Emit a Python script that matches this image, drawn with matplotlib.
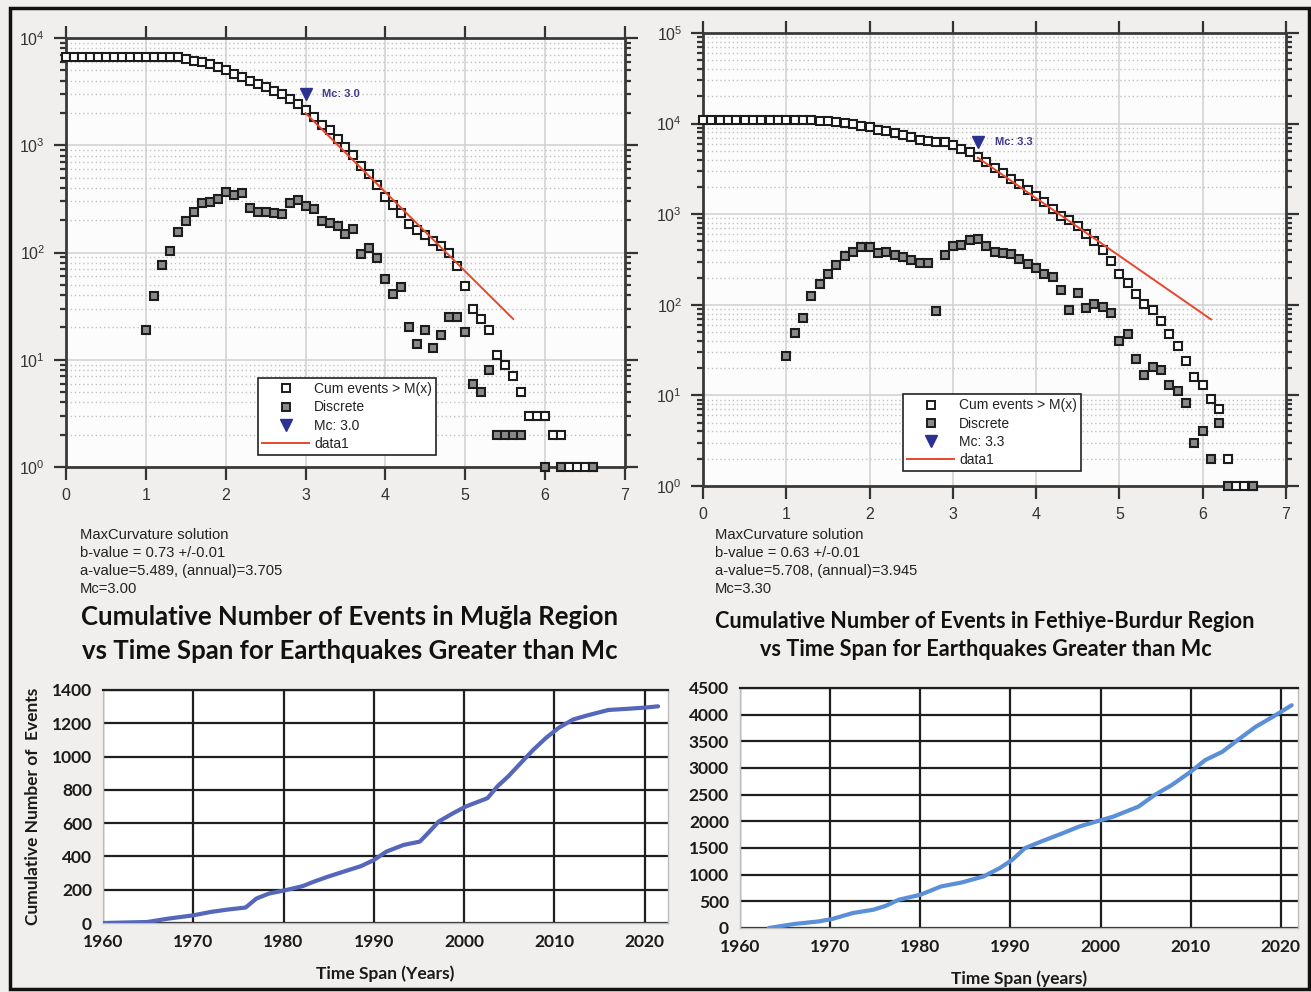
import numpy as np
import matplotlib
matplotlib.use("Agg")
import matplotlib.pyplot as plt
from matplotlib.lines import Line2D
from matplotlib.patches import Rectangle
from matplotlib.ticker import LogLocator, NullFormatter, FixedLocator

# ---------------- data ----------------
mag = [0.0, 0.1, 0.2, 0.3, 0.4, 0.5, 0.6, 0.7, 0.8, 0.9,
       1.0, 1.1, 1.2, 1.3, 1.4, 1.5, 1.6, 1.7, 1.8, 1.9,
       2.0, 2.1, 2.2, 2.3, 2.4, 2.5, 2.6, 2.7, 2.8, 2.9,
       3.0, 3.1, 3.2, 3.3, 3.4, 3.5, 3.6, 3.7, 3.8, 3.9,
       4.0, 4.1, 4.2, 4.3, 4.4, 4.5, 4.6, 4.7, 4.8, 4.9,
       5.0, 5.1, 5.2, 5.3, 5.4, 5.5, 5.6, 5.7, 5.8, 5.9,
       6.0, 6.1, 6.2, 6.3, 6.4, 6.5, 6.6]
nan = np.nan

cum_mugla = [6700, 6700, 6700, 6700, 6700, 6700, 6700, 6700, 6700, 6700,
             6700, 6700, 6700, 6700, 6600, 6410, 6100, 5930, 5670, 5320,
             5020, 4640, 4320, 3990, 3690, 3460, 3200, 2980, 2690, 2450,
             2120, 1815, 1560, 1380, 1150, 965, 807, 637, 536, 423,
             329, 275, 233, 183, 163, 147, 128, 116, 99, 75,
             49, 30, 24, 19, 11, 9, 7, 5, 3, 3,
             3, 2, 2, 1, 1, 1, 1]
disc_mugla = [nan, nan, nan, nan, nan, nan, nan, nan, nan, nan,
              19, 39, 76, 104, 156, 197, 239, 290, 295, 316,
              367, 340, 359, 262, 239, 239, 234, 228, 290, 312,
              270, 257, 197, 189, 176, 150, 167, 96, 109, 88,
              57, 41, 48, 20, 14, 19, 13, 17, 25, 25,
              18, 6, 5, 8, 2, 2, 2, 2, nan, nan,
              1, nan, 1, nan, nan, nan, 1]
fit_mugla_x = [3.0, 5.6]
fit_mugla_y = [1995, 24]
mc_mugla = (3.0, 3000)

cum_feth = [11000, 11000, 11000, 11000, 11000, 11000, 11000, 11000, 11000, 11000,
            11000, 11000, 11000, 11000, 10800, 10800, 10430, 10170, 9830, 9425,
            9110, 8510, 8370, 7890, 7440, 7070, 6660, 6390, 6230, 6230,
            5870, 5300, 4870, 4330, 3750, 3200, 2850, 2450, 2150, 1850,
            1580, 1360, 1150, 960, 860, 740, 600, 510, 400, 303,
            216, 175, 130, 103, 87, 67, 48, 35, 24, 16,
            13, 9.2, 7, 2, 1, 1, 1]
disc_feth = [nan, nan, nan, nan, nan, nan, nan, nan, nan, nan,
             27, 49, 71, 124, 169, 220, 272, 347, 387, 429,
             429, 371, 387, 356, 336, 314, 288, 288, 86, 356,
             451, 455, 515, 535, 442, 380, 376, 360, 320, 280,
             252, 220, 204, 145, 88, 134, 93, 102, 94, 82,
             40, 48, 25, 17, 20.5, 19.2, 13, 11.2, 8.2, 3,
             4, 2, 5, 1, nan, nan, 1]
fit_feth_x = [3.3, 6.1]
fit_feth_y = [4200, 69]
mc_feth = (3.3, 6200)

years_mugla = [1960, 1964.9, 1967.2, 1970, 1971.9, 1973.7, 1975.8, 1977, 1978.4,
               1980.2, 1982.1, 1983.3, 1984.9, 1987.2, 1988.6, 1990, 1991.4,
               1993.3, 1995.1, 1996, 1997.2, 1998.8, 2000.2, 2002.6, 2003.7,
               2004.9, 2006.3, 2007.7, 2009.1, 2010.5, 2012.1, 2013.7, 2016.0,
               2018.4, 2020.2, 2021.5]
count_mugla = [0, 6, 26, 46, 66, 80, 93, 147, 177, 197, 221, 247, 278, 318, 342,
               378, 429, 469, 489, 539, 610, 660, 700, 750, 821, 881, 962, 1042,
               1113, 1173, 1223, 1248, 1280, 1288, 1295, 1302]

years_feth = [1963.2, 1966, 1968.8, 1970.2, 1972.5, 1974.8, 1976.2, 1977.6, 1980,
              1982.3, 1984.6, 1987, 1988.8, 1990.2, 1991.6, 1993.4, 1995.8,
              1997.6, 1999.5, 2001.4, 2004.2, 2006, 2007.9, 2010, 2011.6, 2013.5,
              2015.3, 2017.2, 2019.1, 2021.2]
count_feth = [0, 75, 125, 168, 280, 343, 418, 530, 623, 779, 854, 966, 1122, 1278,
              1496, 1621, 1777, 1901, 1995, 2088, 2276, 2494, 2681, 2930, 3148,
              3304, 3535, 3772, 3959, 4177]

info_mugla = ["MaxCurvature solution", "b-value = 0.73 +/-0.01",
              "a-value=5.489, (annual)=3.705", "Mc=3.00"]
info_feth = ["MaxCurvature solution", "b-value = 0.63 +/-0.01",
             "a-value=5.708, (annual)=3.945", "Mc=3.30"]

# ---------------- figure ----------------
W, H = 1311, 992
plt.rcParams['font.family'] = ['Liberation Sans', 'DejaVu Sans']
plt.rcParams['mathtext.default'] = 'regular'
fig = plt.figure(figsize=(W / 100, H / 100), dpi=100, facecolor='#f0efee')


def rect(l, t, r, b):
    return [l / W, 1 - b / H, (r - l) / W, (b - t) / H]


def top_panel(box, ytop, cum, disc, fitx, fity, mc, mclabel, legx, legy):
    ax = fig.add_axes(rect(*box))
    ax.set_facecolor('#fcfcfc')
    ax.set_yscale('log')
    ax.set_xlim(0, 7)
    ax.set_ylim(1, ytop)
    ax.set_xticks(range(8))
    ax.yaxis.set_major_locator(LogLocator(base=10, numticks=10))
    ax.yaxis.set_minor_locator(LogLocator(base=10, subs=np.arange(2, 10), numticks=20))
    ax.yaxis.set_minor_formatter(NullFormatter())
    ax.grid(which='major', color='#d0d0d0', lw=1.1, ls='-')
    ax.grid(which='minor', axis='y', color='#c2c2c2', lw=1.0, ls=(0, (1, 2)))
    ax.set_axisbelow(True)
    ax.tick_params(which='both', direction='out', top=True, right=True,
                   labelsize=11.5, colors='#333333', width=1.6, pad=6)
    ax.tick_params(which='major', length=9)
    ax.tick_params(which='minor', length=4)
    for s in ax.spines.values():
        s.set_linewidth(2.0)
        s.set_color('#3a3a3a')

    ax.plot(mag, cum, ls='none', marker='s', ms=5.8, mfc='white', mec='#1c1c1c',
            mew=1.5, zorder=3, clip_on=False)
    ax.plot(mag, disc, ls='none', marker='s', ms=5.8, mfc='#8a8a8a', mec='#1c1c1c',
            mew=1.5, zorder=3, clip_on=False)
    ax.plot(fitx, fity, color='#e8472c', lw=1.4, zorder=4)
    ax.plot([mc[0]], [mc[1]], ls='none', marker='v', ms=8, color='#2b3190', zorder=5)
    ax.annotate(mclabel, xy=mc, xytext=(12, 0), textcoords='offset points',
                va='center', ha='left', fontsize=8, fontweight='bold', color='#3f3a8c')

    handles = [Line2D([], [], ls='none', marker='s', ms=5.5, mfc='white', mec='#1c1c1c', mew=1.4),
               Line2D([], [], ls='none', marker='s', ms=5.5, mfc='#8a8a8a', mec='#1c1c1c', mew=1.4),
               Line2D([], [], ls='none', marker='v', ms=8, color='#2b3190'),
               Line2D([], [], color='#e8472c', lw=1.4)]
    labels = ['Cum events > M(x)', 'Discrete', mclabel, 'data1']
    leg = ax.legend(handles, labels, loc='lower left', bbox_to_anchor=(legx, legy),
                    frameon=True, fancybox=False, edgecolor='#222222', framealpha=1,
                    facecolor='white', fontsize=10, borderpad=0.3, labelspacing=0.3,
                    handlelength=3.4, handletextpad=0.35, borderaxespad=0)
    leg.get_frame().set_linewidth(1.2)
    for t in leg.get_texts():
        t.set_color('#222222')
    return ax


top_panel((66, 38, 625, 467), 1e4, cum_mugla, disc_mugla, fit_mugla_x, fit_mugla_y,
          mc_mugla, 'Mc: 3.0', 0.3435, 0.028)
top_panel((703, 33, 1286, 486), 1e5, cum_feth, disc_feth, fit_feth_x, fit_feth_y,
          mc_feth, 'Mc: 3.3', 0.343, 0.033)

for i, line in enumerate(info_mugla):
    fig.text(80 / W, 1 - (535 + 18 * i) / H, line, fontsize=10.6, color='#222222',
             va='center', ha='left')
for i, line in enumerate(info_feth):
    fig.text(715 / W, 1 - (535 + 18 * i) / H, line, fontsize=10.6, color='#222222',
             va='center', ha='left')

# ---------------- bottom panels ----------------
TF = ['Lato', 'DejaVu Sans']
fig.text(350 / W, 1 - 617 / H, 'Cumulative Number of Events in Muğla Region',
         family=TF, fontweight='bold', fontsize=18.5, ha='center', va='center', color='#111111')
fig.text(350 / W, 1 - 651 / H, 'vs Time Span for Earthquakes Greater than Mc',
         family=TF, fontweight='bold', fontsize=18.5, ha='center', va='center', color='#111111')
fig.text(985 / W, 1 - 622 / H, 'Cumulative Number of Events in Fethiye-Burdur Region',
         family=TF, fontweight='bold', fontsize=15.6, ha='center', va='center', color='#111111')
fig.text(986 / W, 1 - 650 / H, 'vs Time Span for Earthquakes Greater than Mc',
         family=TF, fontweight='bold', fontsize=15.6, ha='center', va='center', color='#111111')


def bottom_panel(box, xmax, ymax, ystep, years, counts, color, xlabel, ylabel=None):
    ax = fig.add_axes(rect(*box))
    ax.set_facecolor('white')
    ax.set_xlim(1960, xmax)
    ax.set_ylim(0, ymax)
    ax.set_xticks(range(1960, 2021, 10))
    ax.set_yticks(np.arange(0, ymax + 1, ystep))
    ax.grid(True, color='#1e1e1e', lw=1.6)
    ax.set_axisbelow(True)
    ax.tick_params(length=0, labelsize=12.5, pad=8, colors='#1a1a1a')
    for t in ax.get_xticklabels() + ax.get_yticklabels():
        t.set_fontfamily(TF)
        t.set_fontweight('bold')
    for k, s in ax.spines.items():
        s.set_color('#bdbdbd')
        s.set_linewidth(1.0)
    ax.spines['top'].set_color('#1e1e1e')
    ax.spines['top'].set_linewidth(1.6)
    ax.plot(years, counts, color=color, lw=3.0, solid_capstyle='round', zorder=3)
    ax.set_xlabel(xlabel, family=TF, fontweight='bold', fontsize=12.5, labelpad=11,
                  color='#1a1a1a')
    if ylabel:
        ax.set_ylabel(ylabel, family=TF, fontweight='bold', fontsize=12.5, labelpad=8,
                      color='#1a1a1a')
    return ax


bottom_panel((103, 690, 668, 923), 2022.6, 1400, 200, years_mugla, count_mugla,
             '#5566bb', 'Time Span (Years)', 'Cumulative Number of  Events')
bottom_panel((740, 688, 1298, 928), 2021.9, 4500, 500, years_feth, count_feth,
             '#5b8fd8', 'Time Span (years)')

# outer frame
fig.add_artist(Rectangle((10 / W, 3 / H), 1299 / W, 981 / H, transform=fig.transFigure,
                         fill=False, edgecolor='#111111', lw=2.5))

fig.savefig('out.png', dpi=100, facecolor=fig.get_facecolor())
